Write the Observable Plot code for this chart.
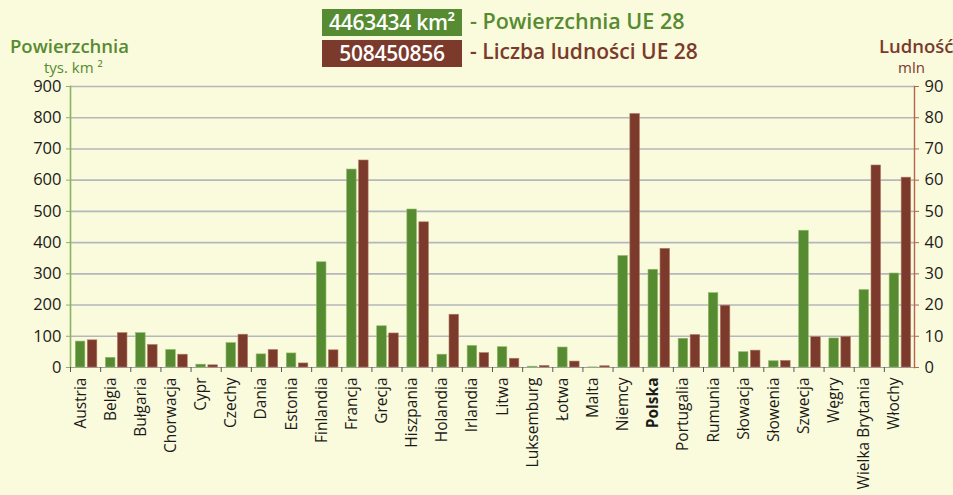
<!DOCTYPE html>
<html>
<head>
<meta charset="utf-8">
<script src="https://cdn.jsdelivr.net/npm/d3@7"></script>
<script src="https://cdn.jsdelivr.net/npm/@observablehq/plot@0.6"></script>
<style>
  html, body { margin: 0; padding: 0; background: #FAFADC; }
  #wrap { position: relative; width: 953px; height: 495px; overflow: hidden; background: #FAFADC; font-family: "Open Sans", sans-serif; }
  .abs { position: absolute; white-space: nowrap; }
  .box { position: absolute; left: 322px; width: 140px; height: 27px; color: #fff; font-size: 21px; font-weight: 600; line-height: 27px; text-align: center; letter-spacing: -0.3px; }
  #chart { position: absolute; left: 0; top: 0; }
</style>
</head>
<body>
<div id="wrap">
  <div id="chart"></div>
  <div class="box" style="top:9px; background:#568B31;">4463434 km²</div>
  <div class="abs" style="left:470px; top:6px; font-size:21.5px; font-weight:600; color:#568B31;">- Powierzchnia UE 28</div>
  <div class="box" style="top:40px; background:#7B3A2B;">508450856</div>
  <div class="abs" style="left:470px; top:37px; font-size:21px; font-weight:600; color:#7B3A2B;">- Liczba ludności UE 28</div>
  <div class="abs" style="left:10px; top:35px; font-size:18.5px; line-height:22px; font-weight:600; color:#568B31;">Powierzchnia</div>
  <div class="abs" style="left:44px; top:59px; font-size:15px; line-height:17px; color:#568B31;">tys. km ²</div>
  <div class="abs" style="left:879px; top:35px; font-size:18.5px; line-height:22px; font-weight:600; color:#7B3A2B;">Ludność</div>
  <div class="abs" style="left:898px; top:59px; font-size:15px; line-height:17px; color:#7B3A2B;">mln</div>
</div>
<script>
const countries = ["Austria","Belgia","Bułgaria","Chorwacja","Cypr","Czechy","Dania","Estonia","Finlandia","Francja","Grecja","Hiszpania","Holandia","Irlandia","Litwa","Luksemburg","Łotwa","Malta","Niemcy","Polska","Portugalia","Rumunia","Słowacja","Słowenia","Szwecja","Węgry","Wielka Brytania","Włochy"];
// Powierzchnia, tys. km²
const area = [83, 31, 110, 56, 9, 78, 42, 45, 337, 634, 132, 506, 41, 69, 65, 2.6, 64, 0.3, 357, 313, 92, 238, 49, 20, 438, 93, 248, 301];
// Ludność, mln
const population = [8.7, 11.0, 7.2, 4.1, 0.7, 10.5, 5.6, 1.3, 5.5, 66.3, 10.9, 46.5, 16.9, 4.6, 2.8, 0.5, 1.9, 0.4, 81.2, 38.0, 10.4, 19.8, 5.4, 2.1, 9.7, 9.8, 64.7, 60.8];
const leftTicks = [0,100,200,300,400,500,600,700,800,900];
const gridTicks = [100,200,300,400,500,600,700,800,900];

const green = "#568B31", brown = "#7B3A2B";
const data = countries.map((c, i) => ({country: c, area: area[i], pop: population[i]}));

const W = 953, H = 495, mL = 70, mR = 39;
const bw = (W - mL - mR) / countries.length;

const chart = Plot.plot({
  width: W, height: H,
  marginLeft: mL, marginRight: mR, marginTop: 86, marginBottom: 128,
  style: {background: "transparent", fontFamily: "Open Sans, sans-serif"},
  x: {domain: countries, padding: 0, axis: null, round: false},
  y: {domain: [0, 900], axis: null},
  marks: [
    Plot.ruleY(gridTicks, {stroke: "#B5B7BD", strokeWidth: 1.6}),
    Plot.ruleY([0], {stroke: "#A0A0A0", strokeWidth: 1.2}),
    Plot.barY(data, {x: "country", y: "area", fill: green, stroke: "#8FB868", strokeWidth: 0.6, insetLeft: bw*0.176, insetRight: bw*0.508}),
    Plot.barY(data, {x: "country", y: d => d.pop * 10, fill: brown, stroke: "#B07A62", strokeWidth: 0.6, insetLeft: bw*0.574, insetRight: bw*0.11}),
    Plot.frame({anchor: "left", stroke: "#8DB35E", strokeWidth: 1.6}),
    Plot.frame({anchor: "right", stroke: "#B4664E", strokeWidth: 1.4}),
    Plot.axisY({anchor: "left", label: null, ticks: leftTicks, tickSize: 4, tickPadding: 5, stroke: "#8DB35E", fill: "#1a1a1a", fontSize: 16.5}),
    Plot.axisY({anchor: "right", label: null, ticks: leftTicks, tickSize: 4, tickPadding: 6, tickFormat: d => d / 10, stroke: "#B4664E", fill: "#1a1a1a", fontSize: 16.5}),
    Plot.axisX({label: null, ticks: countries, tickSize: 5, tickFormat: () => "", dx: -bw / 2, stroke: "#555"}),
    Plot.text(countries.filter(c => c !== "Polska"), {x: d => d, frameAnchor: "bottom", dy: 10, rotate: -90, textAnchor: "end", fontSize: 15.5, fill: "#1a1a1a"}),
    Plot.text(countries.filter(c => c === "Polska"), {x: d => d, frameAnchor: "bottom", dy: 10, rotate: -90, textAnchor: "end", fontSize: 15.5, fontWeight: "bold", fill: "#1a1a1a"})
  ]
});
document.getElementById("chart").appendChild(chart);
</script>
</body>
</html>
